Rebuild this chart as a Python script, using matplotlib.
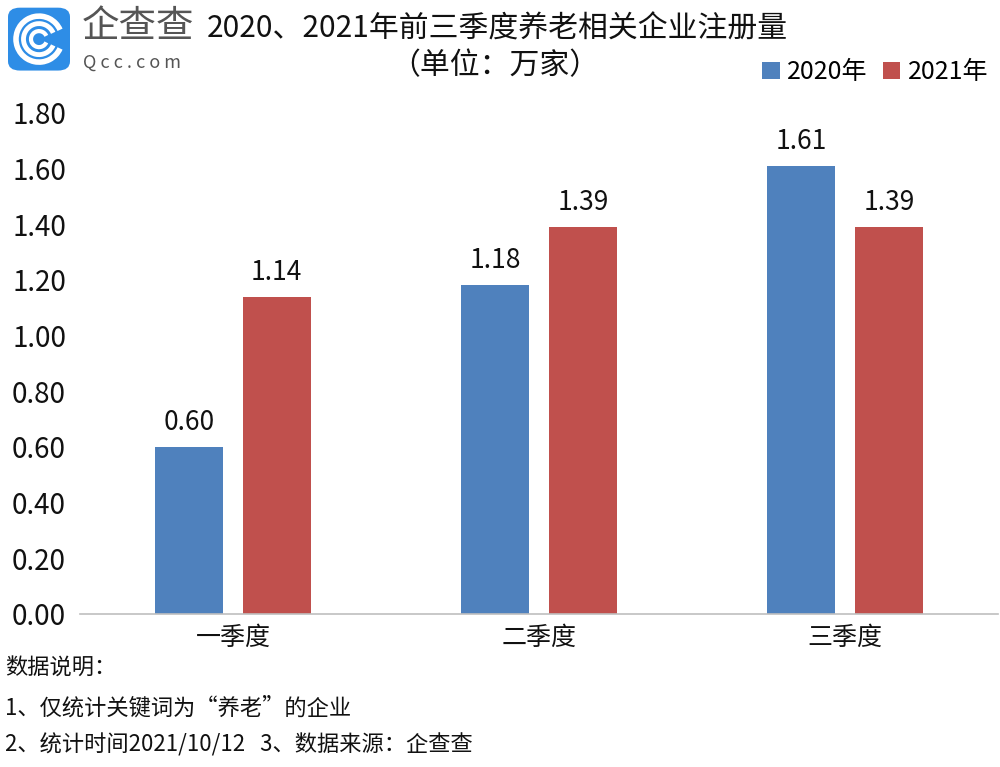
import numpy as np
import matplotlib
matplotlib.use("Agg")
from matplotlib import pyplot as plt
from matplotlib.patches import FancyBboxPatch, Arc

plt.rcParams['font.family'] = ['Noto Sans CJK SC', 'DejaVu Sans']

# Datos
categorias = ["一季度", "二季度", "三季度"]
valores_2020 = [0.60, 1.18, 1.61]
valores_2021 = [1.14, 1.39, 1.39]
series = ["2020年", "2021年"]
colores = ["#4F81BD", "#C0504D"]

fig = plt.figure(figsize=(10, 7.67), dpi=100)
ax = fig.add_axes([0.08, 0.1995, 0.918, 0.6533])

x = np.arange(len(categorias))
ancho = 0.222
desp = 0.143
b1 = ax.bar(x - desp, valores_2020, ancho, color=colores[0], label=series[0])
b2 = ax.bar(x + desp, valores_2021, ancho, color=colores[1], label=series[1])

for barras in (b1, b2):
    ax.bar_label(barras, labels=[f"{v:.2f}" for v in barras.datavalues],
                 padding=8, fontsize=19, color="#111111")

ax.set_xlim(-0.5, 2.5)
ax.set_ylim(0, 1.8)
ax.set_yticks(np.arange(0, 1.81, 0.2))
ax.set_yticklabels([f"{v:.2f}" for v in np.arange(0, 1.81, 0.2)])
ax.set_xticks(x)
ax.set_xticklabels(categorias)
ax.tick_params(axis='y', length=0, pad=10, labelsize=20, labelcolor="#111111")
ax.tick_params(axis='x', length=0, pad=8, labelsize=18, labelcolor="#111111")
for s in ("top", "right", "left"):
    ax.spines[s].set_visible(False)
ax.spines["bottom"].set_color("#BFBFBF")
ax.spines["bottom"].set_linewidth(1.2)

# Título
fig.text(0.497, 0.962, "2020、2021年前三季度养老相关企业注册量", ha="center", va="center",
         fontsize=21.5, fontweight="medium", color="#111111")
fig.text(0.495, 0.915, "（单位：万家）", ha="center", va="center",
         fontsize=21.5, fontweight="medium", color="#111111")

# Leyenda
ax.legend(loc="lower right", bbox_to_anchor=(1.0, 1.035), ncol=2, frameon=False,
          fontsize=18, handlelength=0.7, handleheight=0.7, handletextpad=0.3,
          columnspacing=0.6, borderaxespad=0)

# Logo
logo = FancyBboxPatch((0.008, 0.908), 0.062, 0.082, boxstyle="round,pad=0,rounding_size=0.012",
                      transform=fig.transFigure, facecolor="#2E8DE6", edgecolor="none")
fig.patches.append(logo)
cx, cy = 0.039, 0.949
for r, lw in ((0.046, 4), (0.031, 3.5), (0.016, 3)):
    fig.patches.append(Arc((cx, cy), r, r * 1000 / 767, theta1=30, theta2=330,
                           transform=fig.transFigure, color="white", lw=lw))
fig.text(0.082, 0.965, "企查查", ha="left", va="center", fontsize=27, color="#555555")
fig.text(0.083, 0.918, "Q c c . c o m", ha="left", va="center", fontsize=13, color="#555555")

# Notas
fig.text(0.005, 0.129, "数据说明：", ha="left", va="center", fontsize=16, color="#111111")
fig.text(0.005, 0.077, "1、仅统计关键词为“养老”的企业", ha="left", va="center", fontsize=16, color="#111111")
fig.text(0.005, 0.029, "2、统计时间2021/10/12   3、数据来源：企查查", ha="left", va="center",
         fontsize=16, color="#111111")

fig.savefig("out.png", dpi=100, facecolor="white")
